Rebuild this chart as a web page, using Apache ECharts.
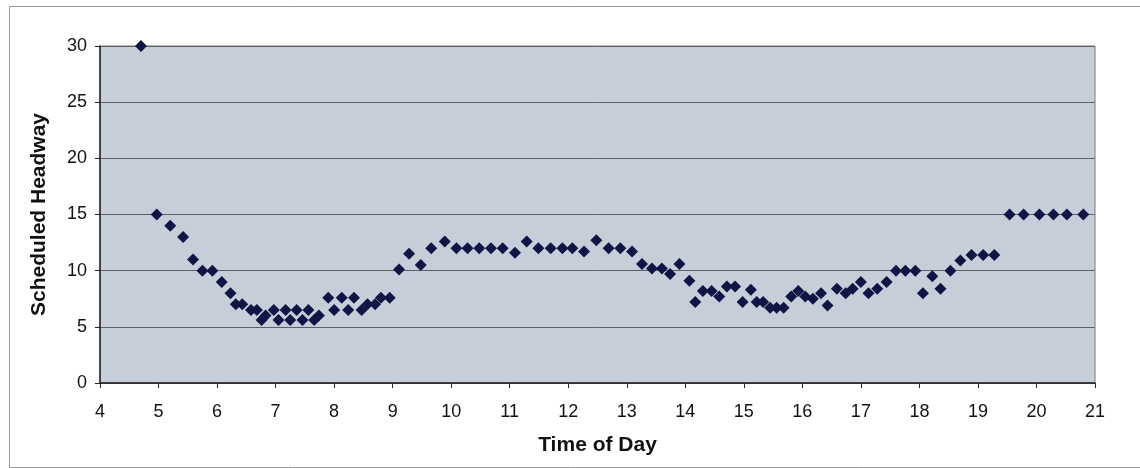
<!DOCTYPE html>
<html>
<head>
<meta charset="utf-8">
<script src="https://cdn.jsdelivr.net/npm/echarts@6/dist/echarts.min.js"></script>
<style>
  html, body { margin: 0; padding: 0; background: #ffffff; }
  #chart { width: 1140px; height: 468px; }
</style>
</head>
<body>
<div id="chart"></div>
<script>
// Scheduled headway (minutes) by departure time (hour of day)
const timeOfDay = [
  4.70, 4.97, 5.20, 5.42, 5.59, 5.75, 5.92, 6.08, 6.23, 6.32,
  6.43, 6.58, 6.68, 6.76, 6.83, 6.97, 7.05, 7.17, 7.25, 7.36,
  7.46, 7.56, 7.66, 7.74, 7.90, 8.00, 8.13, 8.24, 8.34, 8.47,
  8.57, 8.70, 8.80, 8.95, 9.11, 9.28, 9.48, 9.66, 9.89, 10.09,
  10.28, 10.48, 10.68, 10.88, 11.09, 11.29, 11.49, 11.70, 11.90, 12.07,
  12.27, 12.48, 12.69, 12.89, 13.09, 13.26, 13.43, 13.60, 13.74, 13.90,
  14.07, 14.17, 14.30, 14.45, 14.58, 14.71, 14.85, 14.98, 15.12, 15.22,
  15.33, 15.45, 15.56, 15.68, 15.81, 15.93, 16.05, 16.18, 16.32, 16.43,
  16.59, 16.74, 16.86, 17.00, 17.13, 17.28, 17.44, 17.60, 17.76, 17.93,
  18.06, 18.22, 18.36, 18.53, 18.70, 18.89, 19.09, 19.28, 19.54, 19.78,
  20.05, 20.29, 20.52, 20.80
];
const headway = [
  30, 15, 14, 13, 11, 10, 10, 9, 8, 7,
  7, 6.5, 6.5, 5.6, 6, 6.5, 5.6, 6.5, 5.6, 6.5,
  5.6, 6.5, 5.6, 6, 7.6, 6.5, 7.6, 6.5, 7.6, 6.5,
  7, 7, 7.6, 7.6, 10.1, 11.5, 10.5, 12, 12.6, 12,
  12, 12, 12, 12, 11.6, 12.6, 12, 12, 12, 12,
  11.7, 12.7, 12, 12, 11.7, 10.6, 10.2, 10.2, 9.7, 10.6,
  9.1, 7.2, 8.2, 8.2, 7.7, 8.6, 8.6, 7.2, 8.3, 7.2,
  7.2, 6.7, 6.7, 6.7, 7.7, 8.2, 7.7, 7.5, 8.0, 6.9,
  8.4, 8.0, 8.4, 9.0, 8.0, 8.4, 9.0, 10, 10, 10,
  8.0, 9.5, 8.4, 10, 10.9, 11.4, 11.4, 11.4, 15, 15,
  15, 15, 15, 15
];
const xTitle = 'Time of Day';
const yTitle = 'Scheduled Headway';

const points = timeOfDay.map((t, i) => [t, headway[i]]);

const chart = echarts.init(document.getElementById('chart'), null, { renderer: 'canvas' });
const labelFont = { fontFamily: 'Liberation Sans, Arial, sans-serif', fontSize: 18, color: '#111111' };
const titleFont = { fontFamily: 'Liberation Sans, Arial, sans-serif', fontSize: 21, fontWeight: 'bold', color: '#111111' };

chart.setOption({
  backgroundColor: '#ffffff',
  animation: false,
  graphic: [{
    type: 'rect',
    left: 7, top: 4,
    shape: { width: 1160, height: 461 },
    style: { fill: 'none', stroke: '#9a9a9a', lineWidth: 1 },
    silent: true
  }],
  grid: {
    left: 100, right: 45, top: 46, bottom: 85,
    show: true,
    backgroundColor: '#c6ced9',
    borderColor: '#7a7a7a',
    borderWidth: 1
  },
  xAxis: {
    type: 'value',
    min: 4, max: 21, interval: 1,
    name: xTitle,
    nameLocation: 'middle',
    nameGap: 52,
    nameTextStyle: titleFont,
    axisLine: { show: true, onZero: false, lineStyle: { color: '#222222', width: 1.5 } },
    axisTick: { show: true, inside: false, length: 5, lineStyle: { color: '#222222' } },
    axisLabel: Object.assign({ margin: 20 }, labelFont),
    splitLine: { show: false }
  },
  yAxis: {
    type: 'value',
    min: 0, max: 30, interval: 5,
    name: yTitle,
    nameLocation: 'middle',
    nameGap: 50,
    nameRotate: 90,
    nameTextStyle: titleFont,
    axisLine: { show: true, lineStyle: { color: '#222222', width: 1.5 } },
    axisTick: { show: true, inside: false, length: 5, lineStyle: { color: '#222222' } },
    axisLabel: Object.assign({ margin: 13 }, labelFont),
    splitLine: { show: true, lineStyle: { color: '#5e6066', width: 1 } }
  },
  series: [{
    type: 'scatter',
    data: points,
    symbol: 'diamond',
    symbolSize: 12,
    itemStyle: { color: '#101545', opacity: 1 }
  }]
});
</script>
</body>
</html>
